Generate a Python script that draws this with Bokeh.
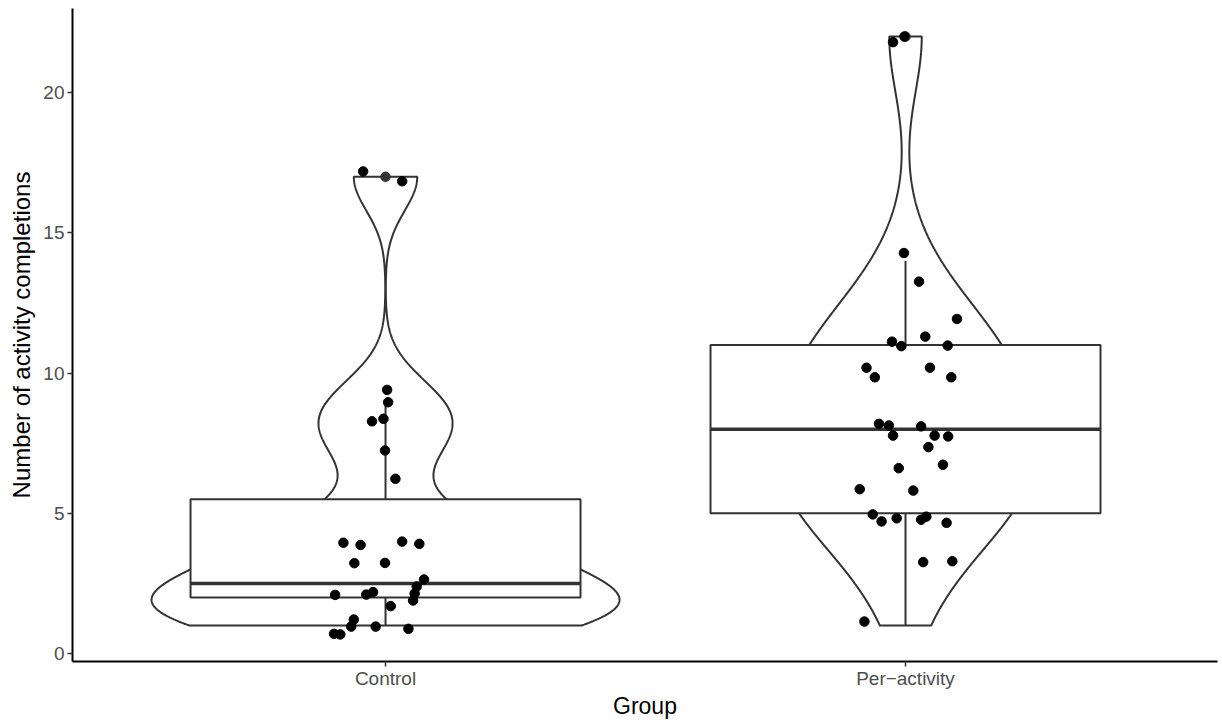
import numpy as np
from bokeh.plotting import figure
from bokeh.models import FixedTicker
from bokeh.embed import file_html
from bokeh.resources import INLINE

# ---------------- data ----------------
groups = ["Control", "Per\u2212activity"]
positions = [1, 2]

# recorded counts per participant (used for the violin densities)
control_values = [1, 1, 1, 1, 1, 1, 2, 2, 2, 2, 2, 2, 2, 2, 3, 3, 4, 4, 4, 4,
                  5, 7, 8, 8, 9, 9, 17, 17]
per_values = [1, 3, 3, 5, 5, 5, 5, 5, 5, 6, 6, 7, 7, 7, 8, 8, 8, 8, 8, 8,
              10, 10, 10, 10, 11, 11, 11, 11, 12, 13, 14, 22, 22]

# boxplot statistics
box_q1 = [2.0, 5.0]
box_median = [2.5, 8.0]
box_q3 = [5.5, 11.0]
whisker_low = [1.0, 1.0]
whisker_high = [9.0, 14.0]

# boxplot outliers (drawn at the category centre)
outlier_pos = [1, 2]
outlier_y = [17.0, 22.0]

# jittered points as drawn: y position and horizontal jitter (category units)
control_y = [17.19, 16.84, 9.40, 8.96, 8.28, 8.37, 7.24, 6.23,
             3.95, 3.87, 3.99, 3.91, 3.22, 3.23, 2.64, 2.39, 2.14, 1.89,
             2.09, 2.10, 2.19, 1.69, 1.21, 0.96, 0.96, 0.88, 0.70, 0.68]
control_dx = [-0.043, 0.032, 0.003, 0.005, -0.026, -0.004, -0.001, 0.019,
              -0.081, -0.048, 0.032, 0.065, -0.060, -0.001, 0.074, 0.060, 0.056, 0.053,
              -0.097, -0.037, -0.024, 0.010, -0.061, -0.066, -0.019, 0.044, -0.099, -0.087]

per_y = [21.80, 22.00, 14.28, 13.26, 11.93, 11.30, 11.12, 10.96, 10.98, 10.19,
         9.85, 10.19, 9.85, 8.19, 8.13, 8.10, 7.77, 7.77, 7.74, 7.36,
         6.61, 6.73, 5.86, 5.81, 4.96, 4.71, 4.82, 4.77, 4.88, 4.66,
         3.26, 3.29, 1.14]
per_dx = [-0.024, -0.002, -0.003, 0.026, 0.099, 0.038, -0.026, -0.008, 0.081, -0.075,
          -0.059, 0.047, 0.088, -0.051, -0.032, 0.030, -0.024, 0.056, 0.082, 0.044,
          -0.013, 0.072, -0.088, 0.015, -0.063, -0.046, -0.017, 0.030, 0.040, 0.079,
          0.034, 0.090, -0.079]

y_ticks = [0, 5, 10, 15, 20]

# ---------------- violin densities (gaussian KDE, nrd0 bandwidth, trimmed) ----------------
def nrd0(v):
    v = np.asarray(v, float)
    sd = v.std(ddof=1)
    iqr = np.subtract(*np.percentile(v, [75, 25]))
    lo = min(sd, iqr / 1.34) if iqr > 0 else sd
    return 0.9 * lo * len(v) ** -0.2

def kde(v):
    v = np.asarray(v, float)
    bw = nrd0(v)
    grid = np.linspace(v.min(), v.max(), 512)
    d = np.exp(-0.5 * ((grid[:, None] - v[None, :]) / bw) ** 2).sum(axis=1)
    d /= (len(v) * bw * np.sqrt(2 * np.pi))
    return grid, d

dens = [kde(control_values), kde(per_values)]
dmax = max(d.max() for _, d in dens)

# ---------------- figure ----------------
p = figure(width=1222, height=721, x_range=(0.398, 2.6), y_range=(-0.285, 23.0),
           output_backend="svg", toolbar_location=None,
           min_border_left=72, min_border_right=5, min_border_top=8, min_border_bottom=60)
p.background_fill_color = "white"
p.border_fill_color = "white"
p.outline_line_color = None
p.xgrid.grid_line_color = None
p.ygrid.grid_line_color = None

edge = "#333333"
for (grid, d), c in zip(dens, positions):
    hw = 0.45 * d / dmax
    xs = np.concatenate([c + hw, (c - hw)[::-1]])
    ys = np.concatenate([grid, grid[::-1]])
    p.patch(xs, ys, fill_color="white", line_color=edge, line_width=2)

half = 0.375
left = [c - half for c in positions]
right = [c + half for c in positions]
p.segment(x0=positions, y0=box_q3, x1=positions, y1=whisker_high, line_color=edge, line_width=2)
p.segment(x0=positions, y0=box_q1, x1=positions, y1=whisker_low, line_color=edge, line_width=2)
p.quad(left=left, right=right, bottom=box_q1, top=box_q3,
       fill_color="white", line_color=edge, line_width=2)
p.segment(x0=left, y0=box_median, x1=right, y1=box_median, line_color=edge, line_width=3.5)
p.scatter(outlier_pos, outlier_y, size=9.5, fill_color=edge, line_color=edge)

p.scatter([positions[0] + dx for dx in control_dx], control_y, size=9.5,
          fill_color="black", line_color="black")
p.scatter([positions[1] + dx for dx in per_dx], per_y, size=9.5,
          fill_color="black", line_color="black")

# ---------------- axes ----------------
p.xaxis.ticker = FixedTicker(ticks=positions)
p.xaxis.major_label_overrides = {positions[0]: groups[0], positions[1]: groups[1]}
p.yaxis.ticker = FixedTicker(ticks=y_ticks)
p.xaxis.axis_label = "Group"
p.yaxis.axis_label = "Number of activity completions"

for ax in (p.xaxis[0], p.yaxis[0]):
    ax.axis_line_color = "black"
    ax.axis_line_width = 2
    ax.major_tick_line_color = edge
    ax.major_tick_line_width = 1.5
    ax.major_tick_out = 5
    ax.major_tick_in = 0
    ax.minor_tick_line_color = None
    ax.major_label_text_font = "Liberation Sans"
    ax.major_label_text_font_size = "19px"
    ax.major_label_text_color = "#4d4d4d"
    ax.axis_label_text_font = "Liberation Sans"
    ax.axis_label_text_font_style = "normal"
    ax.axis_label_text_color = "black"

p.xaxis[0].axis_label_text_font_size = "23px"
p.xaxis[0].major_label_standoff = 1
p.xaxis[0].axis_label_standoff = 1
p.yaxis[0].axis_label_text_font_size = "24px"
p.yaxis[0].major_label_standoff = 3
p.yaxis[0].axis_label_standoff = 5

open("out.html", "w").write(file_html(p, INLINE))
